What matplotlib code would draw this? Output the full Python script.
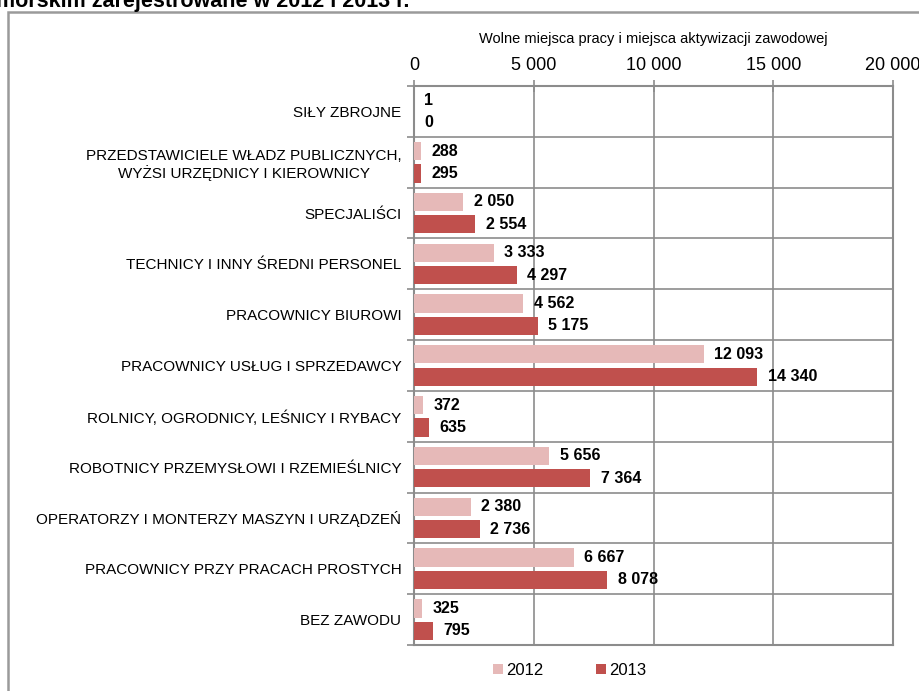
import numpy as np
import matplotlib.pyplot as plt
from matplotlib.patches import Rectangle

plt.rcParams['font.family'] = ['Liberation Sans', 'DejaVu Sans']

categories = [
    "SIŁY ZBROJNE",
    "PRZEDSTAWICIELE WŁADZ PUBLICZNYCH,\nWYŻSI URZĘDNICY I KIEROWNICY",
    "SPECJALIŚCI",
    "TECHNICY I INNY ŚREDNI PERSONEL",
    "PRACOWNICY BIUROWI",
    "PRACOWNICY USŁUG I SPRZEDAWCY",
    "ROLNICY, OGRODNICY, LEŚNICY I RYBACY",
    "ROBOTNICY PRZEMYSŁOWI I RZEMIEŚLNICY",
    "OPERATORZY I MONTERZY MASZYN I URZĄDZEŃ",
    "PRACOWNICY PRZY PRACACH PROSTYCH",
    "BEZ ZAWODU",
]
v2012 = [1, 288, 2050, 3333, 4562, 12093, 372, 5656, 2380, 6667, 325]
v2013 = [0, 295, 2554, 4297, 5175, 14340, 635, 7364, 2736, 8078, 795]
xticks = [0, 5000, 10000, 15000, 20000]

c2012 = "#E6B9B8"
c2013 = "#C0504D"
grid_c = "#8C8C8C"

def fmt(v):
    return f"{v:,}".replace(",", " ")

fig = plt.figure(figsize=(9.2, 6.91), dpi=100)
ax = fig.add_axes([414/920, 1-645/691, (893-414)/920, (645-86)/691])

y = np.arange(len(categories))
h = 0.36
off = 0.22
b1 = ax.barh(y - off, v2012, height=h, color=c2012, label="2012", zorder=3)
b2 = ax.barh(y + off, v2013, height=h, color=c2013, label="2013", zorder=3)

for bars, vals in ((b1, v2012), (b2, v2013)):
    for r, v in zip(bars, vals):
        ax.annotate(fmt(v), (v, r.get_y() + r.get_height()/2),
                    xytext=(7.5, 0), textcoords="offset points",
                    ha="left", va="center", fontsize=11.5, fontweight="bold",
                    zorder=5)

ax.set_xlim(0, 20000)
ax.set_ylim(len(categories) - 0.5, -0.5)
ax.xaxis.tick_top()
ax.set_xticks(xticks)
ax.set_xticklabels([fmt(t) for t in xticks], fontsize=13)
ax.tick_params(axis="x", direction="inout", length=8, color=grid_c, width=1.2, pad=5)
ax.set_yticks(y)
ax.set_yticklabels(categories, fontsize=11, multialignment="center")
ax.tick_params(axis="y", which="major", length=0, pad=9)
ax.set_yticks(np.arange(len(categories) + 1) - 0.5, minor=True)
ax.tick_params(axis="y", which="minor", length=5, color=grid_c, width=1.2)
ax.grid(True, which="minor", axis="y", color=grid_c, lw=1.2, zorder=1)
ax.grid(True, which="major", axis="x", color=grid_c, lw=1.2, zorder=1)
for s in ax.spines.values():
    s.set_color(grid_c)
    s.set_linewidth(1.5)

ax.set_xlabel("Wolne miejsca pracy i miejsca aktywizacji zawodowej", fontsize=10.5, labelpad=10)
ax.xaxis.set_label_position("top")

ax.legend(loc="upper center", bbox_to_anchor=(0.325, -0.005), ncol=2, frameon=False,
          fontsize=12, handlelength=0.6, handleheight=0.6, handletextpad=0.15,
          columnspacing=3.2)

fig.add_artist(Rectangle((8/920, -0.1), 1.2, 1.1 - 12/691, transform=fig.transFigure,
                         fill=False, edgecolor="#9A9A9A", lw=1.8))
fig.text(-0.004, 1 - 7/691, "morskim zarejestrowane w 2012 i 2013 r.", fontsize=15.5,
         fontweight="bold", ha="left", va="baseline")

fig.savefig("out.png", dpi=100)
